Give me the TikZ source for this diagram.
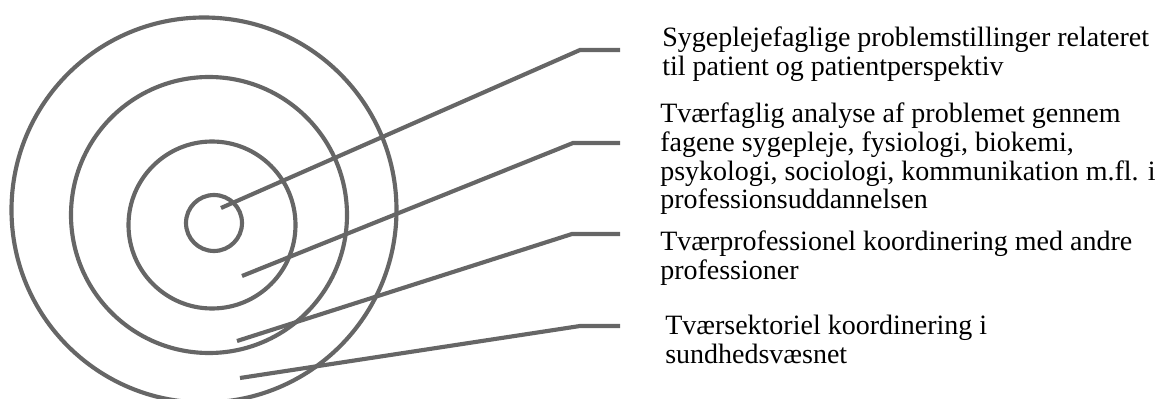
\documentclass[tikz,border=0pt]{standalone}
\usepackage{fontspec}
\setmainfont{Liberation Serif}
\definecolor{ringgray}{RGB}{102,102,102}
\tikzset{
  ring/.style={draw=ringgray, line width=3.1pt, circle, inner sep=0pt},
  lead/.style={draw=ringgray, line width=3.1pt},
  label/.style={anchor=north west, inner sep=0pt, align=left, font=\fontsize{21pt}{21.5pt}\selectfont}
}
\begin{document}
\begin{tikzpicture}[x=0.75pt,y=-0.75pt]
\path[use as bounding box] (0,0) rectangle (1157,399);

\node[ring,minimum size=42pt] (c1) at (214,223) {};
\node[ring,minimum size=125.25pt] (c2) at (212,225) {};
\node[ring,minimum size=207pt] (c3) at (209,215) {};
\node[ring,minimum size=288.75pt] (c4) at (204,210) {};

\coordinate (p1) at (221,208);
\coordinate (k1) at (580,50);
\coordinate (e1) at (620,50);
\coordinate (p2) at (242,276);
\coordinate (k2) at (573,143);
\coordinate (e2) at (620,143);
\coordinate (p3) at (237,341);
\coordinate (k3) at (572,234);
\coordinate (e3) at (620,234);
\coordinate (p4) at (240,378);
\coordinate (k4) at (580,326);
\coordinate (e4) at (620,326);

\path[lead] (p1) -- (k1) -- (e1);
\path[lead] (p2) -- (k2) -- (e2);
\path[lead] (p3) -- (k3) -- (e3);
\path[lead] (p4) -- (k4) -- (e4);

\node[label] (t1) at (662,27) {Sygeplejefaglige problemstillinger relateret\\til patient og patientperspektiv};
\node[label] (t2) at (660,103) {Tværfaglig analyse af problemet gennem\\fagene sygepleje, fysiologi, biokemi,\\psykologi, sociologi, kommunikation m.fl. i\\professionsuddannelsen};
\node[label] (t3) at (660,231) {Tværprofessionel koordinering med andre\\professioner};
\node[label] (t4) at (665,315) {Tværsektoriel koordinering i\\sundhedsvæsnet};
\end{tikzpicture}
\end{document}
